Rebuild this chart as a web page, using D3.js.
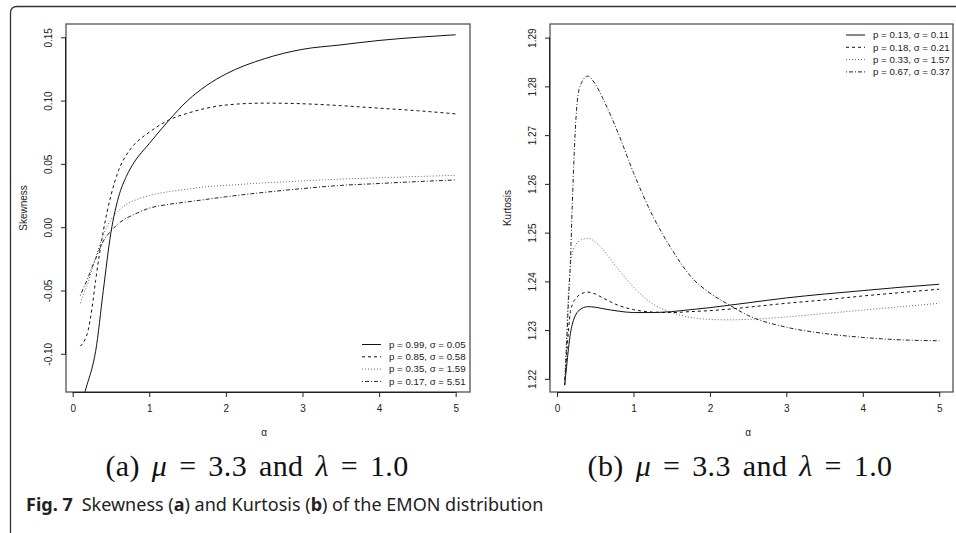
<!DOCTYPE html>
<html>
<head>
<meta charset="utf-8">
<script src="https://cdn.jsdelivr.net/npm/d3@7"></script>
<style>
body { margin: 0; background: #fff; }
svg { display: block; }
.tick text { font-family: "Liberation Sans", Arial, sans-serif; font-size: 10px; fill: #222; }
</style>
</head>
<body>
<script>
// alpha grids
var skewAlpha = [0.1, 0.15, 0.2, 0.25, 0.3, 0.4, 0.5, 0.6, 0.7, 0.8, 1.0, 1.25, 1.5, 1.75, 2, 2.5, 3, 3.5, 4, 4.5, 5];
var kurtAlpha = [0.1, 0.125, 0.15, 0.175, 0.2, 0.25, 0.3, 0.4, 0.5, 0.6, 0.8, 1.0, 1.25, 1.5, 1.75, 2, 2.25, 2.5, 3, 3.5, 4, 4.5, 5];

// skewness series (panel a)
var skew1 = [-0.150, -0.133, -0.122, -0.112, -0.098, -0.050, -0.004, 0.024, 0.040, 0.051, 0.066, 0.084, 0.100, 0.112, 0.121, 0.133, 0.1405, 0.144, 0.1475, 0.150, 0.152];
var skew2 = [-0.094, -0.090, -0.082, -0.065, -0.042, -0.003, 0.025, 0.045, 0.057, 0.065, 0.075, 0.0845, 0.090, 0.094, 0.0965, 0.098, 0.0975, 0.096, 0.094, 0.092, 0.0895];
var skew3 = [-0.060, -0.052, -0.044, -0.034, -0.024, -0.006, 0.006, 0.013, 0.018, 0.021, 0.025, 0.028, 0.030, 0.032, 0.033, 0.035, 0.0365, 0.038, 0.039, 0.040, 0.041];
var skew4 = [-0.054, -0.047, -0.040, -0.032, -0.025, -0.011, -0.003, 0.003, 0.007, 0.010, 0.015, 0.018, 0.020, 0.022, 0.024, 0.0275, 0.0305, 0.033, 0.0345, 0.036, 0.0373];
var skewLabels = ["p = 0.99, \u03c3 = 0.05", "p = 0.85, \u03c3 = 0.58", "p = 0.35, \u03c3 = 1.59", "p = 0.17, \u03c3 = 5.51"];
var skewTicks = [-0.10, -0.05, 0.00, 0.05, 0.10, 0.15];

// kurtosis series (panel b)
var kurt1 = [1.2187, 1.2225, 1.2262, 1.2293, 1.2312, 1.2333, 1.2342, 1.2348, 1.2347, 1.2344, 1.2339, 1.2336, 1.2336, 1.2338, 1.2342, 1.2346, 1.2351, 1.2356, 1.2366, 1.2374, 1.2381, 1.2388, 1.2394];
var kurt2 = [1.2187, 1.2245, 1.2300, 1.2338, 1.2352, 1.2366, 1.2373, 1.2378, 1.2374, 1.2366, 1.2351, 1.2342, 1.2337, 1.2336, 1.2338, 1.2340, 1.2343, 1.2347, 1.2355, 1.2362, 1.2370, 1.2377, 1.2384];
var kurt3 = [1.2190, 1.2290, 1.2380, 1.2430, 1.2458, 1.2476, 1.2484, 1.2488, 1.2481, 1.2465, 1.2425, 1.2388, 1.2354, 1.2336, 1.2326, 1.2322, 1.2321, 1.2322, 1.2327, 1.2334, 1.2341, 1.2348, 1.2355];
var kurt4 = [1.2190, 1.2270, 1.2360, 1.2440, 1.2560, 1.2740, 1.2800, 1.2821, 1.2805, 1.2775, 1.2704, 1.2623, 1.2535, 1.2466, 1.2410, 1.2376, 1.2352, 1.2330, 1.2306, 1.2293, 1.2285, 1.2280, 1.2278];
var kurtLabels = ["p = 0.13, \u03c3 = 0.11", "p = 0.18, \u03c3 = 0.21", "p = 0.33, \u03c3 = 1.57", "p = 0.67, \u03c3 = 0.37"];
var kurtTicks = [1.22, 1.23, 1.24, 1.25, 1.26, 1.27, 1.28, 1.29];

var xTicks = [0, 1, 2, 3, 4, 5];
var dashes = [null, "3,3", "1,2", "1,2,4,2"];
var strokes = ["#111", "#111", "#666", "#222"];

var W = 956, H = 533;
var svg = d3.select("body").append("svg")
    .attr("width", W)
    .attr("height", H);

//outer frame with rounded corner
svg.append("path")
    .attr("d", "M10.5," + H + " L10.5,13 Q10.5,6.5 17,6.5 L" + W + ",6.5")
    .attr("fill", "none")
    .attr("stroke", "#333")
    .attr("stroke-width", 1.3);

function panel(cfg) {
    var x = d3.scaleLinear().domain(cfg.xdom).range([cfg.left, cfg.right]);
    var y = d3.scaleLinear().domain(cfg.ydom).range([cfg.bottom, cfg.top]);
    var g = svg.append("g");

    var clipId = "clip" + cfg.id;
    svg.append("clipPath").attr("id", clipId)
        .append("rect")
        .attr("x", cfg.left).attr("y", cfg.top)
        .attr("width", cfg.right - cfg.left).attr("height", cfg.bottom - cfg.top);

    var line = d3.line()
        .x(function(d) { return x(d[0]); })
        .y(function(d) { return y(d[1]); })
        .curve(d3.curveMonotoneX);

    cfg.series.forEach(function(s, i) {
        g.append("path")
            .datum(d3.zip(cfg.alpha, s))
            .attr("clip-path", "url(#" + clipId + ")")
            .attr("fill", "none")
            .attr("stroke", strokes[i])
            .attr("stroke-width", 1)
            .attr("stroke-dasharray", dashes[i])
            .attr("d", line);
    });

    //box
    g.append("rect")
        .attr("x", cfg.left).attr("y", cfg.top)
        .attr("width", cfg.right - cfg.left).attr("height", cfg.bottom - cfg.top)
        .attr("fill", "none")
        .attr("stroke", "#444")
        .attr("stroke-width", 1.2);

    //x axis
    var xa = g.append("g")
        .attr("transform", "translate(0," + cfg.bottom + ")")
        .call(d3.axisBottom(x).tickValues(xTicks).tickSize(5).tickPadding(8).tickFormat(d3.format("d")));
    xa.select(".domain").attr("stroke", "#222").attr("d", "M" + x(0) + ",0.5H" + x(5));
    xa.selectAll(".tick line").attr("stroke", "#222");

    //y axis
    var ya = g.append("g")
        .attr("transform", "translate(" + cfg.left + ",0)")
        .call(d3.axisLeft(y).tickValues(cfg.yticks).tickSize(5).tickFormat(d3.format(cfg.yfmt)));
    ya.select(".domain").attr("stroke", "#222")
        .attr("d", "M-0.5," + y(cfg.yticks[0]) + "V" + y(cfg.yticks[cfg.yticks.length - 1]));
    ya.selectAll(".tick line").attr("stroke", "#222");
    ya.selectAll(".tick text")
        .attr("x", null).attr("dy", null)
        .attr("text-anchor", "middle")
        .attr("transform", "translate(-18,0) rotate(-90)")
        .attr("dy", "0.35em")
        .text(function(d) { return d3.format(cfg.yfmt)(d).replace("\u2212", "-"); });

    //axis titles
    g.append("text")
        .attr("x", (x(0) + x(5)) / 2)
        .attr("y", cfg.bottom + 44)
        .attr("text-anchor", "middle")
        .style("font-family", "Liberation Sans, Arial, sans-serif")
        .style("font-size", "10px")
        .attr("fill", "#222")
        .text("\u03b1");
    g.append("text")
        .attr("transform", "translate(" + (cfg.left - 39) + "," + ((cfg.top + cfg.bottom) / 2) + ") rotate(-90)")
        .attr("text-anchor", "middle")
        .style("font-family", "Liberation Sans, Arial, sans-serif")
        .style("font-size", "10px")
        .attr("fill", "#222")
        .text(cfg.ytitle);

    //legend
    var lg = g.append("g")
        .attr("transform", "translate(" + cfg.legX + "," + cfg.legY + ")");
    cfg.labels.forEach(function(lab, i) {
        lg.append("line")
            .attr("x1", 0).attr("x2", 19)
            .attr("y1", i * 12.3).attr("y2", i * 12.3)
            .attr("stroke", strokes[i])
            .attr("stroke-width", 1)
            .attr("stroke-dasharray", dashes[i]);
        lg.append("text")
            .attr("x", 27)
            .attr("y", i * 12.3)
            .attr("dy", "0.35em")
            .style("font-family", "Liberation Sans, Arial, sans-serif")
            .style("font-size", "9.7px")
            .attr("fill", "#222")
            .text(lab);
    });

    //caption
    var cap = svg.append("text")
        .attr("x", cfg.capX)
        .attr("y", 476)
        .attr("text-anchor", "middle")
        .style("font-family", "Liberation Serif, Times New Roman, serif")
        .style("font-size", "30px")
        .style("word-spacing", "4px")
        .style("letter-spacing", "0.4px")
        .attr("fill", "#111");
    cap.append("tspan").text(cfg.capTag + " ");
    cap.append("tspan").style("font-style", "italic").text("\u03bc");
    cap.append("tspan").text(" = 3.3 and ");
    cap.append("tspan").style("font-style", "italic").text("\u03bb");
    cap.append("tspan").text(" = 1.0");
}

panel({
    id: "a", left: 66, right: 470, top: 24, bottom: 392,
    xdom: [-0.087, 5.187], ydom: [-0.1302, 0.1605],
    alpha: skewAlpha, series: [skew1, skew2, skew3, skew4],
    yticks: skewTicks, yfmt: ".2f", ytitle: "Skewness",
    labels: skewLabels, legX: 362, legY: 344.5,
    capX: 257, capTag: "(a)"
});

panel({
    id: "b", left: 550, right: 953, top: 24, bottom: 392,
    xdom: [-0.092, 5.18], ydom: [1.2173, 1.2928],
    alpha: kurtAlpha, series: [kurt1, kurt2, kurt3, kurt4],
    yticks: kurtTicks, yfmt: ".2f", ytitle: "Kurtosis",
    labels: kurtLabels, legX: 846, legY: 35,
    capX: 740, capTag: "(b)"
});

//figure caption
var fc = svg.append("text")
    .attr("x", 26)
    .attr("y", 511)
    .style("font-family", "Noto Sans, Open Sans, sans-serif")
    .style("font-size", "18px")
    .attr("fill", "#222");
fc.append("tspan").style("font-weight", "bold").text("Fig. 7");
fc.append("tspan").text("\u2002Skewness (");
fc.append("tspan").style("font-weight", "bold").text("a");
fc.append("tspan").text(") and Kurtosis (");
fc.append("tspan").style("font-weight", "bold").text("b");
fc.append("tspan").text(") of the EMON distribution");
</script>
</body>
</html>
